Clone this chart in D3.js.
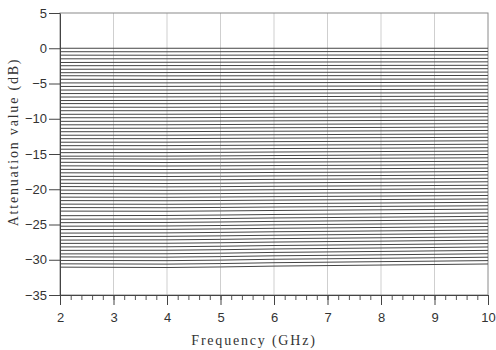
<!DOCTYPE html>
<html>
  <head>
    <meta charset="utf-8" />
    <script src="https://d3js.org/d3.v7.min.js"></script>
    <style>
      body { margin: 0; background: #fff; }
      .tick text { font: 13px "Liberation Sans", Arial, sans-serif; fill: #333; }
      .title { font: 14px "Liberation Serif", serif; fill: #333; letter-spacing: 1.8px; }
    </style>
  </head>
  <body>
    <div id="my_chart"></div>
    <script>
      const freqs = [2, 4, 6, 8, 10];
      const xTicks = [2, 3, 4, 5, 6, 7, 8, 9, 10];
      const yTicks = [5, 0, -5, -10, -15, -20, -25, -30, -35];

      // attenuation of the 64 states (dB) at the frequencies above
      const states = [
        [0, 0, 0, 0, 0],
        [-0.49, -0.5, -0.48, -0.47, -0.46],
        [-0.98, -0.99, -0.97, -0.96, -0.95],
        [-1.5, -1.49, -1.46, -1.45, -1.44],
        [-2.02, -1.99, -1.96, -1.94, -1.93],
        [-2.48, -2.46, -2.45, -2.43, -2.42],
        [-2.98, -2.96, -2.93, -2.91, -2.9],
        [-3.47, -3.45, -3.42, -3.4, -3.38],
        [-3.9, -3.92, -3.9, -3.88, -3.86],
        [-4.4, -4.42, -4.4, -4.38, -4.36],
        [-4.92, -4.91, -4.88, -4.86, -4.84],
        [-5.42, -5.41, -5.38, -5.36, -5.33],
        [-5.93, -5.92, -5.88, -5.85, -5.82],
        [-6.43, -6.41, -6.37, -6.34, -6.31],
        [-6.92, -6.9, -6.86, -6.83, -6.8],
        [-7.42, -7.4, -7.35, -7.32, -7.28],
        [-7.85, -7.86, -7.83, -7.79, -7.76],
        [-8.36, -8.37, -8.33, -8.29, -8.26],
        [-8.86, -8.86, -8.82, -8.78, -8.74],
        [-9.37, -9.36, -9.31, -9.27, -9.23],
        [-9.86, -9.85, -9.8, -9.76, -9.72],
        [-10.37, -10.35, -10.3, -10.25, -10.2],
        [-10.86, -10.85, -10.79, -10.74, -10.69],
        [-11.36, -11.34, -11.28, -11.23, -11.17],
        [-11.84, -11.83, -11.77, -11.72, -11.66],
        [-12.34, -12.33, -12.27, -12.21, -12.15],
        [-12.83, -12.82, -12.75, -12.69, -12.63],
        [-13.33, -13.32, -13.25, -13.19, -13.12],
        [-13.82, -13.81, -13.74, -13.68, -13.61],
        [-14.32, -14.31, -14.23, -14.17, -14.1],
        [-14.81, -14.8, -14.72, -14.65, -14.58],
        [-15.31, -15.3, -15.22, -15.14, -15.07],
        [-15.68, -15.72, -15.66, -15.6, -15.54],
        [-16.18, -16.21, -16.15, -16.09, -16.03],
        [-16.68, -16.7, -16.64, -16.58, -16.51],
        [-17.18, -17.2, -17.13, -17.07, -17.0],
        [-17.67, -17.69, -17.62, -17.56, -17.48],
        [-18.17, -18.19, -18.11, -18.05, -17.97],
        [-18.66, -18.68, -18.6, -18.53, -18.45],
        [-19.16, -19.18, -19.09, -19.02, -18.94],
        [-19.62, -19.66, -19.58, -19.51, -19.43],
        [-20.12, -20.15, -20.07, -20.0, -19.91],
        [-20.62, -20.65, -20.56, -20.49, -20.4],
        [-21.12, -21.14, -21.05, -20.97, -20.88],
        [-21.61, -21.63, -21.54, -21.46, -21.37],
        [-22.11, -22.13, -22.03, -21.95, -21.85],
        [-22.6, -22.62, -22.52, -22.43, -22.34],
        [-23.1, -23.12, -23.01, -22.92, -22.82],
        [-23.75, -23.72, -23.58, -23.47, -23.35],
        [-24.25, -24.22, -24.07, -23.96, -23.84],
        [-24.74, -24.71, -24.56, -24.44, -24.32],
        [-25.24, -25.21, -25.05, -24.93, -24.81],
        [-25.72, -25.69, -25.54, -25.42, -25.29],
        [-26.22, -26.19, -26.03, -25.91, -25.78],
        [-26.71, -26.68, -26.52, -26.39, -26.26],
        [-27.21, -27.18, -27.01, -26.88, -26.75],
        [-27.68, -27.66, -27.49, -27.36, -27.22],
        [-28.18, -28.16, -27.98, -27.85, -27.71],
        [-28.67, -28.65, -28.47, -28.33, -28.19],
        [-29.17, -29.15, -28.96, -28.82, -28.67],
        [-29.6, -29.63, -29.44, -29.3, -29.15],
        [-30.1, -30.13, -29.93, -29.79, -29.64],
        [-30.58, -30.62, -30.42, -30.27, -30.12],
        [-31.05, -31.1, -30.9, -30.75, -30.6],
      ];

      const margin = { top: 13, right: 8, bottom: 55, left: 60 },
        width = 496 - margin.left - margin.right,
        height = 350 - margin.top - margin.bottom;

      const svg = d3
        .select("#my_chart")
        .append("svg")
        .attr("width", 496)
        .attr("height", 350)
        .append("g")
        .attr("transform", "translate(" + margin.left + "," + margin.top + ")");

      const x = d3.scaleLinear().domain([2, 10]).range([0, width]);
      const y = d3.scaleLinear().domain([-35, 5]).range([height, 0]);

      // vertical grid
      svg
        .selectAll(".grid")
        .data(xTicks.slice(1, -1))
        .enter()
        .append("line")
        .attr("x1", (d) => x(d))
        .attr("x2", (d) => x(d))
        .attr("y1", 0)
        .attr("y2", height)
        .attr("stroke", "#cfcfcf")
        .attr("stroke-width", 1);

      // frame
      svg
        .append("rect")
        .attr("x", 0)
        .attr("y", 0)
        .attr("width", width)
        .attr("height", height)
        .attr("fill", "none")
        .attr("stroke", "#8a8a8a");

      // traces
      const line = d3
        .line()
        .x((d, i) => x(freqs[i]))
        .y((d) => y(d))
        .curve(d3.curveMonotoneX);
      svg
        .selectAll(".trace")
        .data(states)
        .enter()
        .append("path")
        .attr("fill", "none")
        .attr("stroke", "#444")
        .attr("stroke-width", 1)
        .attr("d", line);

      // minor x ticks
      svg
        .append("g")
        .attr("transform", "translate(0," + height + ")")
        .call(d3.axisBottom(x).tickValues(d3.range(2, 10.01, 0.2)).tickSize(5).tickFormat(""))
        .call((g) => g.select(".domain").remove())
        .selectAll("line")
        .attr("stroke", "#555");

      // x axis
      const gx = svg
        .append("g")
        .attr("transform", "translate(0," + height + ")")
        .call(d3.axisBottom(x).tickValues(xTicks).tickSize(10).tickSizeOuter(0).tickPadding(8));
      gx.select(".domain").attr("stroke", "#444");
      gx.selectAll("line").attr("stroke", "#444");

      // y axis
      const gy = svg
        .append("g")
        .call(d3.axisLeft(y).tickValues(yTicks).tickSize(11).tickSizeOuter(0).tickPadding(2));
      gy.select(".domain").attr("stroke", "#444");
      gy.selectAll("line").attr("stroke", "#444");

      svg
        .append("text")
        .attr("class", "title")
        .attr("x", 194)
        .attr("y", height + 50)
        .attr("text-anchor", "middle")
        .text("Frequency (GHz)");

      svg
        .append("text")
        .attr("class", "title")
        .attr("transform", "translate(-42," + 129 + ") rotate(-90)")
        .attr("text-anchor", "middle")
        .text("Attenuation value (dB)");
    </script>
  </body>
</html>
